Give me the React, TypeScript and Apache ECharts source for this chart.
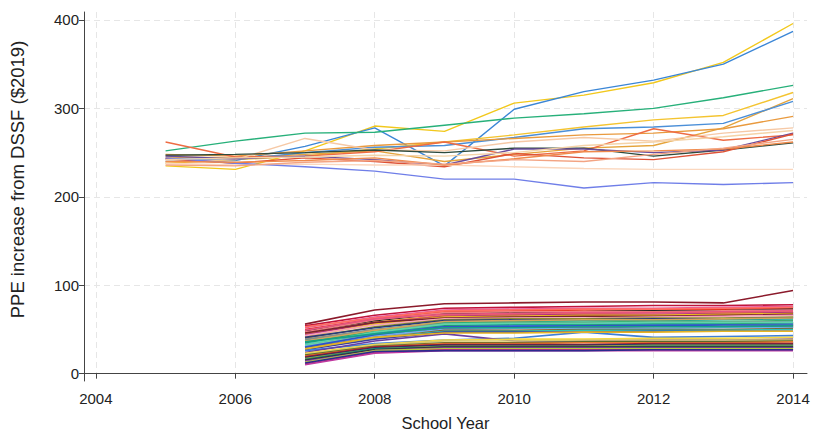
import React, { useEffect, useRef } from "react";
import * as echarts from "echarts";

// School years on the horizontal axis
const upperYears = [2005, 2006, 2007, 2008, 2009, 2010, 2011, 2012, 2013, 2014];
const lowerYears = [2007, 2008, 2009, 2010, 2011, 2012, 2013, 2014];
const xTicks = [2004, 2006, 2008, 2010, 2012, 2014];
const yTicks = [0, 100, 200, 300, 400];

// Districts with the large increase (2005–2014)
const upperColors = [
  "#f2c81c", "#3b86d6", "#27b07a", "#f4c430", "#e5a43c", "#4b8fd8",
  "#e99a3e", "#ee6c44", "#f6c9a6", "#2d4a3c", "#6a4c9c", "#de5236",
  "#fbd7be", "#6f7ee8", "#f08a4b", "#f3a483", "#f5d3a8",
];
const upperValues: number[][] = [
  [235, 231, 252, 280, 274, 306, 315, 329, 352, 396],
  [240, 241, 257, 278, 235, 299, 319, 332, 350, 387],
  [252, 263, 272, 273, 281, 289, 294, 300, 312, 326],
  [238, 242, 246, 254, 262, 270, 279, 287, 292, 318],
  [245, 244, 248, 252, 240, 248, 255, 258, 278, 311],
  [243, 242, 250, 256, 258, 267, 277, 279, 283, 308],
  [248, 246, 252, 258, 262, 266, 270, 272, 277, 291],
  [262, 245, 246, 251, 262, 246, 252, 277, 264, 270],
  [240, 242, 266, 253, 252, 262, 267, 263, 272, 278],
  [247, 248, 250, 253, 250, 255, 255, 246, 253, 261],
  [246, 243, 246, 242, 236, 254, 254, 250, 253, 272],
  [243, 238, 244, 240, 234, 249, 244, 242, 251, 271],
  [238, 236, 237, 236, 236, 234, 232, 231, 231, 231],
  [244, 238, 234, 229, 220, 220, 210, 216, 214, 216],
  [240, 239, 241, 244, 236, 243, 251, 252, 254, 262],
  [236, 235, 239, 241, 237, 242, 240, 248, 255, 265],
  [242, 244, 245, 247, 246, 250, 258, 262, 268, 275],
];

// Districts with the small increase (2007–2014)
const lowerColors = [
  "#8b1a2b", "#c0143c", "#e8589a", "#e0301e", "#222222", "#f08080",
  "#f28e2b", "#b0307f", "#f0c419", "#7a2230", "#f7a1b8", "#8c8c2a",
  "#2a3b7a", "#1ba39c", "#2fb36b", "#8a8a8a", "#3cc3d6", "#1f9e6e",
  "#3a6fd8", "#7fd18b", "#7b4fb0", "#6cb4e8", "#8b5a2b", "#2ec4b6",
  "#3d3d9e", "#3f7fd6", "#6a3fa0", "#f5d742", "#d8c86a", "#5a6b2a",
  "#e8772e", "#9e1b32", "#1f2f6b", "#a0a03a", "#157f7a", "#333333",
  "#8e44ad", "#b5cc3a", "#d0306f", "#c03aa0", "#2b2b8f", "#ff6f61",
  "#e75480", "#d2a35a", "#5fd3a8", "#2f55c7", "#16a085", "#e6b422",
];
const lowerValues: number[][] = [
  [56, 72, 79, 80, 81, 81, 80, 94],
  [54, 66, 74, 75, 76, 77, 77, 78],
  [52, 64, 72, 73, 74, 74, 75, 76],
  [50, 62, 70, 71, 72, 72, 73, 74],
  [48, 60, 68, 69, 70, 71, 71, 73],
  [47, 61, 69, 70, 70, 70, 71, 72],
  [45, 58, 66, 67, 68, 69, 69, 70],
  [44, 57, 65, 66, 67, 67, 68, 69],
  [42, 56, 64, 65, 66, 66, 67, 68],
  [46, 58, 63, 64, 65, 65, 66, 67],
  [43, 55, 62, 63, 63, 64, 65, 66],
  [40, 53, 61, 62, 62, 63, 63, 64],
  [41, 52, 60, 61, 61, 62, 62, 63],
  [38, 50, 58, 59, 60, 60, 61, 62],
  [36, 48, 57, 58, 58, 59, 59, 60],
  [39, 50, 56, 57, 57, 58, 58, 59],
  [34, 46, 55, 56, 56, 57, 57, 58],
  [35, 47, 54, 55, 55, 56, 56, 57],
  [33, 45, 53, 54, 54, 55, 55, 56],
  [32, 44, 52, 53, 53, 54, 54, 55],
  [30, 42, 51, 52, 52, 53, 53, 54],
  [31, 43, 50, 51, 51, 51, 52, 52],
  [29, 40, 49, 49, 50, 50, 50, 51],
  [28, 40, 48, 48, 49, 49, 49, 50],
  [27, 39, 47, 47, 47, 48, 48, 48],
  [26, 34, 38, 40, 47, 41, 42, 43],
  [24, 37, 45, 37, 37, 38, 38, 39],
  [23, 33, 38, 39, 39, 40, 40, 41],
  [22, 32, 37, 37, 38, 38, 38, 38],
  [21, 31, 35, 35, 36, 36, 36, 37],
  [20, 30, 34, 34, 35, 35, 35, 36],
  [19, 30, 33, 33, 33, 34, 34, 34],
  [18, 29, 32, 32, 32, 33, 33, 33],
  [17, 28, 31, 31, 31, 32, 32, 32],
  [16, 28, 30, 30, 30, 31, 31, 31],
  [15, 27, 30, 30, 30, 30, 30, 30],
  [14, 26, 29, 29, 29, 29, 29, 29],
  [13, 26, 28, 28, 28, 28, 28, 28],
  [11, 24, 27, 27, 27, 27, 27, 27],
  [10, 23, 26, 26, 26, 26, 26, 26],
  [12, 25, 26, 26, 26, 27, 27, 27],
  [53, 63, 71, 72, 73, 73, 74, 75],
  [49, 62, 67, 68, 69, 69, 70, 71],
  [37, 49, 59, 60, 61, 61, 62, 63],
  [33, 47, 56, 57, 57, 58, 58, 58],
  [30, 44, 53, 53, 54, 54, 55, 55],
  [36, 45, 52, 52, 53, 53, 53, 54],
  [28, 41, 46, 46, 47, 47, 48, 48],
];

const FONT = "Liberation Sans, Arial, sans-serif";

export default function App() {
  const ref = useRef<HTMLDivElement>(null);

  useEffect(() => {
    if (!ref.current) return;
    const chart = echarts.init(ref.current, undefined, { renderer: "svg" });

    const lowerSeries = lowerValues.map((vals, i) => ({
      type: "line" as const,
      data: vals.map((v, j) => [lowerYears[j], v]),
      showSymbol: false,
      lineStyle: { width: 1.6, color: lowerColors[i % lowerColors.length] },
      z: 2,
    }));
    const upperSeries = upperValues.map((vals, i) => ({
      type: "line" as const,
      data: vals.map((v, j) => [upperYears[j], v]),
      showSymbol: false,
      lineStyle: { width: 1.4, color: upperColors[i % upperColors.length] },
      z: 3,
    }));

    const gridLine = { show: true, lineStyle: { color: "#e6e6e6", type: [6, 4] as number[], width: 1 } };

    chart.setOption({
      animation: false,
      backgroundColor: "#ffffff",
      grid: { left: 83, right: 7, top: 12, bottom: 49 },
      xAxis: {
        type: "value",
        min: 2003.83,
        max: 2014.2,
        name: "School Year",
        nameLocation: "middle",
        nameGap: 33,
        nameTextStyle: { fontFamily: FONT, fontSize: 16.5, color: "#222" },
        axisLine: { show: true, lineStyle: { color: "#444", width: 1 } },
        axisTick: { show: true, length: 5, customValues: xTicks, lineStyle: { color: "#444" } },
        axisLabel: {
          customValues: xTicks,
          formatter: (v: number) => String(v),
          fontFamily: FONT,
          fontSize: 15,
          color: "#222",
          margin: 10,
        },
        splitLine: gridLine,
      },
      yAxis: {
        type: "value",
        min: -8.3,
        max: 409,
        name: "PPE increase from DSSF ($2019)",
        nameLocation: "middle",
        nameGap: 57,
        nameTextStyle: {
          fontFamily: FONT,
          fontSize: 18.5,
          color: "#222",
          padding: [0, 0, 0, 34],
        },
        axisLine: { show: true, lineStyle: { color: "#444", width: 1 } },
        axisTick: { show: true, length: 5, customValues: yTicks, lineStyle: { color: "#444" } },
        axisLabel: {
          customValues: yTicks,
          fontFamily: FONT,
          fontSize: 15,
          color: "#222",
          margin: 5,
        },
        splitLine: gridLine,
      },
      series: [...lowerSeries, ...upperSeries],
    });

    return () => chart.dispose();
  }, []);

  return (
    <div
      ref={ref}
      style={{ position: "absolute", left: 0, top: 0, width: 814, height: 436 }}
    />
  );
}
